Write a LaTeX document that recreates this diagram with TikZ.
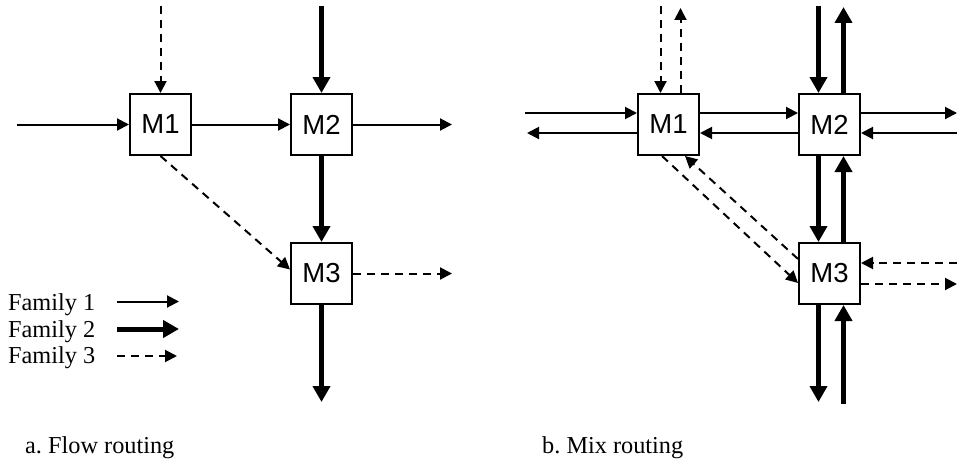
\documentclass[tikz,border=0pt]{standalone}
\usepackage{fontspec}
\setmainfont{Liberation Serif}
\newfontfamily\boxfont{Liberation Sans}
\usepackage{tikz}
\usetikzlibrary{arrows.meta,positioning}
\frenchspacing

\begin{document}
\begin{tikzpicture}[
  x=1pt, y=-1pt,
  node distance=86pt and 98pt,
  box/.style={draw,line width=2pt,minimum size=61pt,inner sep=0pt,font=\boxfont\fontsize{27.5}{30}\selectfont},
  captext/.style={font=\fontsize{24.3}{27}\selectfont,inner sep=0pt,anchor=base west},
  famA/.style={line width=2pt,-{Triangle[length=12pt,width=12pt]}},
  famB/.style={line width=5pt,-{Triangle[length=16pt,width=17pt]}},
  famC/.style={line width=2pt,dash pattern=on 8pt off 6pt,-{Triangle[length=12pt,width=12pt]}}
]
\useasboundingbox (0,0) rectangle (957,460);

% a. flow routing
\node[box] (aM1) at (160.5,124.5) {M1};
\node[box, right=of aM1] (aM2) {M2};
\node[box, below=of aM2] (aM3) {M3};

\coordinate (aW) at (17,124.5);
\coordinate (aE2) at (452,124.5);
\coordinate (aN1) at (160.5,6);
\coordinate (aN2) at (321.5,6);
\coordinate (aE3) at (452,273.5);
\coordinate (aS3) at (321.5,402);

\draw[famA] (aW) -- (aM1);
\draw[famA] (aM1) -- (aM2);
\draw[famA] (aM2) -- (aE2);
\draw[famC] (aN1) -- (aM1);
\draw[famB] (aN2) -- (aM2);
\draw[famB] (aM2) -- (aM3);
\draw[famC] (aM1.south) -- ([yshift=4pt]aM3.west);
\draw[famC] (aM3) -- (aE3);
\draw[famB] (aM3) -- (aS3);

% legend
\node[captext] (fam1) at (8,310) {Family 1};
\node[captext] (fam2) at (8,337) {Family 2};
\node[captext] (fam3) at (8,363.5) {Family 3};
\coordinate (k1a) at (117,301.5);
\coordinate (k1b) at (179,301.5);
\coordinate (k2a) at (117,329);
\coordinate (k2b) at (179,329);
\coordinate (k3a) at (117,356);
\coordinate (k3b) at (177,356);
\draw[famA] (k1a) -- (k1b);
\draw[famB] (k2a) -- (k2b);
\draw[famC] (k3a) -- (k3b);

\node[captext] (capa) at (25,453) {a. Flow routing};

% b. mix routing
\node[box] (bM1) at (668.5,124.5) {M1};
\node[box, right=of bM1] (bM2) {M2};
\node[box, below=of bM2] (bM3) {M3};

\coordinate (bW1) at (525,113);
\coordinate (bW2) at (527,133);
\coordinate (bE1) at (957,113);
\coordinate (bE2) at (957,133);
\coordinate (bN1a) at (660.5,6);
\coordinate (bN1b) at (680.5,8);
\coordinate (bN2a) at (818.5,6);
\coordinate (bN2b) at (843.5,7);
\coordinate (bS3a) at (818.5,402);
\coordinate (bS3b) at (843.5,404);
\coordinate (bE3a) at (957,263);
\coordinate (bE3b) at (957,284);

\draw[famA] (bW1) -- ([yshift=11.5pt]bM1.west);
\draw[famA] ([yshift=-8.5pt]bM1.west) -- (bW2);
\draw[famA] ([yshift=11.5pt]bM1.east) -- ([yshift=11.5pt]bM2.west);
\draw[famA] ([yshift=-8.5pt]bM2.west) -- ([yshift=-8.5pt]bM1.east);
\draw[famA] ([yshift=11.5pt]bM2.east) -- (bE1);
\draw[famA] (bE2) -- ([yshift=-8.5pt]bM2.east);
\draw[famC] (bN1a) -- ([xshift=-8pt]bM1.north);
\draw[famC] ([xshift=12pt]bM1.north) -- (bN1b);
\draw[famB] (bN2a) -- ([xshift=-11pt]bM2.north);
\draw[famB] ([xshift=14pt]bM2.north) -- (bN2b);
\draw[famB] ([xshift=-11pt]bM2.south) -- ([xshift=-11pt]bM3.north);
\draw[famB] ([xshift=14pt]bM3.north) -- ([xshift=14pt]bM2.south);
\draw[famB] ([xshift=-11pt]bM3.south) -- (bS3a);
\draw[famB] (bS3b) -- ([xshift=14pt]bM3.south);
\draw[famC] (bE3a) -- ([yshift=10.5pt]bM3.east);
\draw[famC] ([yshift=-10.5pt]bM3.east) -- (bE3b);
\draw[famC] ([xshift=-6.5pt]bM1.south) -- ([yshift=-9.5pt]bM3.west);
\draw[famC] ([yshift=14.5pt]bM3.west) -- ([xshift=16.5pt]bM1.south);

\node[captext] (capb) at (542,453) {b. Mix routing};
\end{tikzpicture}
\end{document}
